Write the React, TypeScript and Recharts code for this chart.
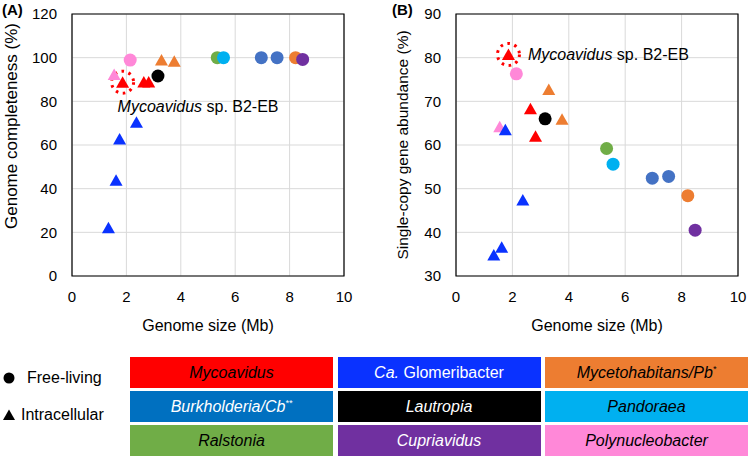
import React from 'react';
import { ScatterChart, Scatter, XAxis, YAxis, CartesianGrid, ReferenceArea } from 'recharts';

type Pt = { size: number; completeness: number; scg: number };

// ---- data ----
const sizeTicks = [0, 2, 4, 6, 8, 10];
const completenessTicks = [0, 20, 40, 60, 80, 100, 120];
const scgTicks = [30, 40, 50, 60, 70, 80, 90];

const mycoavidusB2EB: Pt[] = [{ size: 1.86, completeness: 88.3, scg: 80.5 }];
const mycoavidusOthers: Pt[] = [
  { size: 2.64, completeness: 88.5, scg: 68.1 },
  { size: 2.82, completeness: 88.5, scg: 61.8 },
];
const glomeribacter: Pt[] = [
  { size: 1.34, completeness: 21.7, scg: 34.6 },
  { size: 1.62, completeness: 43.5, scg: 36.4 },
  { size: 1.75, completeness: 62.3, scg: 63.3 },
  { size: 2.37, completeness: 70.0, scg: 47.2 },
];
const mycetohabitansIntra: Pt[] = [
  { size: 3.29, completeness: 98.5, scg: 72.5 },
  { size: 3.76, completeness: 98.0, scg: 65.7 },
];
const mycetohabitansFree: Pt[] = [{ size: 8.22, completeness: 100, scg: 48.4 }];
const burkholderia: Pt[] = [
  { size: 6.96, completeness: 100, scg: 52.4 },
  { size: 7.54, completeness: 100, scg: 52.8 },
];
const lautropia: Pt[] = [{ size: 3.16, completeness: 91.6, scg: 66.0 }];
const pandoraea: Pt[] = [{ size: 5.57, completeness: 100, scg: 55.6 }];
const ralstonia: Pt[] = [{ size: 5.34, completeness: 100, scg: 59.2 }];
const cupriavidus: Pt[] = [{ size: 8.48, completeness: 99.2, scg: 40.5 }];
const polynucleobacterFree: Pt[] = [{ size: 2.14, completeness: 98.9, scg: 76.3 }];
const polynucleobacterIntra: Pt[] = [{ size: 1.55, completeness: 91.9, scg: 64.0 }];

const highlightLabel = 'Mycoavidus';
const highlightSuffix = ' sp. B2-EB';

// ---- styles ----
const FONT = '"Liberation Sans", Arial, Helvetica, sans-serif';
const C = {
  red: '#FF0000',
  blue: '#0A32FF',
  orange: '#ED7D31',
  burk: '#4472C4',
  burkLegend: '#0070C0',
  black: '#000000',
  cyan: '#00B0F0',
  green: '#70AD47',
  purple: '#7030A0',
  pink: '#FF88D8',
};

const circle = (fill: string) => (p: any) => (
  <circle cx={p.cx} cy={p.cy} r={6.5} fill={fill} />
);
const triangle = (fill: string) => (p: any) => {
  const { cx, cy } = p;
  const w = 13;
  const h = 11.5;
  return (
    <polygon
      points={`${cx},${cy - h * 0.6} ${cx - w / 2},${cy + h * 0.4} ${cx + w / 2},${cy + h * 0.4}`}
      fill={fill}
    />
  );
};
const ring = (lx: number, ly: number) => (p: any) => {
  const { cx, cy } = p;
  return (
    <g>
      <circle cx={cx} cy={cy - 1} r={11} fill="#fff" fillOpacity={0} stroke={C.red} strokeWidth={3} strokeDasharray="2.6 4.6" />
      <text x={cx + lx} y={cy + ly} dominantBaseline="central" fontSize={16} fontFamily={FONT} fill="#000">
        <tspan fontStyle="italic">{highlightLabel}</tspan>
        <tspan>{highlightSuffix}</tspan>
      </text>
    </g>
  );
};

type SeriesDef = { name: string; data: Pt[]; shape: (p: any) => React.ReactElement };
const seriesList: SeriesDef[] = [
  { name: 'Polynucleobacter intra', data: polynucleobacterIntra, shape: triangle(C.pink) },
  { name: 'Glomeribacter', data: glomeribacter, shape: triangle(C.blue) },
  { name: 'Polynucleobacter free', data: polynucleobacterFree, shape: circle(C.pink) },
  { name: 'Mycoavidus', data: mycoavidusOthers, shape: triangle(C.red) },
  { name: 'Lautropia', data: lautropia, shape: circle(C.black) },
  { name: 'Mycetohabitans intra', data: mycetohabitansIntra, shape: triangle(C.orange) },
  { name: 'Ralstonia', data: ralstonia, shape: circle(C.green) },
  { name: 'Pandoraea', data: pandoraea, shape: circle(C.cyan) },
  { name: 'Burkholderia', data: burkholderia, shape: circle(C.burk) },
  { name: 'Mycetohabitans free', data: mycetohabitansFree, shape: circle(C.orange) },
  { name: 'Cupriavidus', data: cupriavidus, shape: circle(C.purple) },
];

const tickStyle = { fontSize: 15, fill: '#000', fontFamily: FONT };

function Panel(props: {
  yKey: 'completeness' | 'scg';
  yTicks: number[];
  width: number;
  yAxisWidth: number;
  rightMargin: number;
  labelDx: number;
  labelDy: number;
}) {
  const { yKey, yTicks, width, yAxisWidth, rightMargin, labelDx, labelDy } = props;
  const yMin = yTicks[0];
  const yMax = yTicks[yTicks.length - 1];
  return (
    <ScatterChart width={width} height={340} margin={{ top: 14, right: rightMargin, bottom: 0, left: 0 }}>
      <CartesianGrid stroke="#D9D9D9" strokeWidth={1} />
      <XAxis
        type="number"
        dataKey="size"
        domain={[0, 10]}
        ticks={sizeTicks}
        tickLine={false}
        axisLine={false}
        tickSize={0}
        tickMargin={15}
        height={64}
        tick={tickStyle}
        allowDataOverflow
      />
      <YAxis
        type="number"
        dataKey={yKey}
        domain={[yMin, yMax]}
        ticks={yTicks}
        tickLine={false}
        axisLine={false}
        tickSize={0}
        tickMargin={15}
        width={yAxisWidth}
        tick={tickStyle}
        allowDataOverflow
      />
      <ReferenceArea x1={0} x2={10} y1={yMin} y2={yMax} fill="none" fillOpacity={0} stroke="#000" strokeWidth={1.2} />
      <Scatter data={mycoavidusB2EB} shape={ring(labelDx, labelDy)} isAnimationActive={false} />
      {seriesList.map((s) => (
        <Scatter key={s.name} name={s.name} data={s.data} shape={s.shape} isAnimationActive={false} />
      ))}
      <Scatter data={mycoavidusB2EB} shape={triangle(C.red)} isAnimationActive={false} />
    </ScatterChart>
  );
}

type LegendCell = { label: React.ReactNode; bg: string; color: string };
const legendCells: LegendCell[] = [
  { label: <i>Mycoavidus</i>, bg: C.red, color: '#000' },
  { label: <><i>Ca.</i> Glomeribacter</>, bg: C.blue, color: '#fff' },
  { label: <i>Mycetohabitans/Pb<sup style={{ fontSize: 9 }}>*</sup></i>, bg: C.orange, color: '#000' },
  { label: <i>Burkholderia/Cb<sup style={{ fontSize: 9 }}>**</sup></i>, bg: C.burkLegend, color: '#fff' },
  { label: <i>Lautropia</i>, bg: C.black, color: '#fff' },
  { label: <i>Pandoraea</i>, bg: C.cyan, color: '#000' },
  { label: <i>Ralstonia</i>, bg: C.green, color: '#000' },
  { label: <i>Cupriavidus</i>, bg: C.purple, color: '#fff' },
  { label: <i>Polynucleobacter</i>, bg: C.pink, color: '#000' },
];

const abs = (left: number, top: number): React.CSSProperties => ({ position: 'absolute', left, top });

export default function App() {
  return (
    <div style={{ position: 'absolute', left: 0, top: 0, width: 750, height: 458, background: '#fff', fontFamily: FONT, color: '#000', overflow: 'hidden' }}>
      <div style={abs(0, 0)}>
        <Panel yKey="completeness" yTicks={completenessTicks} width={360} yAxisWidth={72} rightMargin={16} labelDx={-5} labelDy={22.5} />
      </div>
      <div style={abs(380, 0)}>
        <Panel yKey="scg" yTicks={scgTicks} width={370} yAxisWidth={76} rightMargin={12} labelDx={19.5} labelDy={-1.5} />
      </div>

      {/* panel letters */}
      <div style={{ ...abs(2, 1), fontSize: 15, fontWeight: 'bold', lineHeight: '18px' }}>(A)</div>
      <div style={{ ...abs(392, 1), fontSize: 15, fontWeight: 'bold', lineHeight: '18px' }}>(B)</div>

      {/* axis titles */}
      <div style={{ ...abs(208, 326), fontSize: 16, whiteSpace: 'nowrap', transform: 'translate(-50%, -50%)' }}>Genome size (Mb)</div>
      <div style={{ ...abs(597, 326), fontSize: 16, whiteSpace: 'nowrap', transform: 'translate(-50%, -50%)' }}>Genome size (Mb)</div>
      <div style={{ ...abs(12, 126), fontSize: 17, whiteSpace: 'nowrap', transform: 'translate(-50%, -50%) rotate(-90deg)' }}>Genome completeness (%)</div>
      <div style={{ ...abs(403, 145), fontSize: 15.5, whiteSpace: 'nowrap', transform: 'translate(-50%, -50%) rotate(-90deg)' }}>Single-copy gene abundance (%)</div>

      {/* shape legend */}
      <svg style={abs(0, 365)} width={20} height={60}>
        <circle cx={9} cy={13} r={5.5} fill="#000" />
        <polygon points="9,44.5 3,55 15,55" fill="#000" />
      </svg>
      <div style={{ ...abs(27, 378), fontSize: 16, transform: 'translateY(-50%)', whiteSpace: 'nowrap' }}>Free-living</div>
      <div style={{ ...abs(21, 415), fontSize: 16, transform: 'translateY(-50%)', whiteSpace: 'nowrap' }}>Intracellular</div>

      {/* colour legend */}
      <div style={{ ...abs(130, 357), width: 618, display: 'grid', gridTemplateColumns: '203px 203px 203px', gridAutoRows: '31px', columnGap: 4.5, rowGap: 3 }}>
        {legendCells.map((c, i) => (
          <div key={i} style={{ background: c.bg, color: c.color, fontSize: 16, display: 'flex', alignItems: 'center', justifyContent: 'center', whiteSpace: 'nowrap' }}>
            <span>{c.label}</span>
          </div>
        ))}
      </div>
    </div>
  );
}
